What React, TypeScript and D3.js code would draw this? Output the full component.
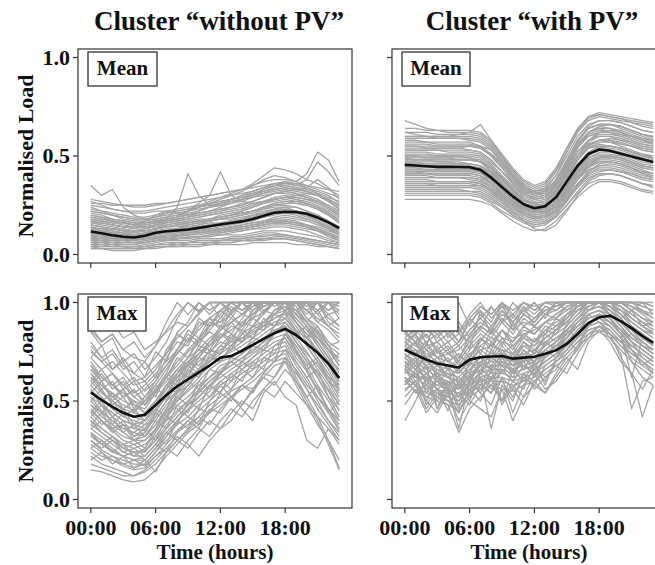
import React from "react";
import * as d3 from "d3";

const hours = [0, 1, 2, 3, 4, 5, 6, 7, 8, 9, 10, 11, 12, 13, 14, 15, 16, 17, 18, 19, 20, 21, 22, 23];
const xTickHours = [0, 6, 12, 18];
const xTickLabels = ["00:00", "06:00", "12:00", "18:00"];
const yTickValues = [0, 0.5, 1.0];
const yTickLabels = ["0.0", "0.5", "1.0"];
const clusterTitles = ["Cluster \u201Cwithout PV\u201D", "Cluster \u201Cwith PV\u201D"];
const rowLabels = ["Mean", "Max"];

// Black centroid profiles
const noPvMeanProfile = [0.117, 0.108, 0.098, 0.09, 0.086, 0.095, 0.11, 0.118, 0.122, 0.127, 0.135, 0.143, 0.152, 0.16, 0.168, 0.18, 0.197, 0.212, 0.217, 0.216, 0.207, 0.188, 0.163, 0.134];
const pvMeanProfile = [0.455, 0.452, 0.448, 0.445, 0.445, 0.444, 0.443, 0.43, 0.39, 0.342, 0.295, 0.255, 0.235, 0.245, 0.29, 0.37, 0.45, 0.51, 0.533, 0.527, 0.512, 0.498, 0.484, 0.469];
const noPvMaxProfile = [0.543, 0.505, 0.47, 0.44, 0.42, 0.43, 0.48, 0.53, 0.575, 0.61, 0.645, 0.68, 0.72, 0.728, 0.755, 0.785, 0.815, 0.845, 0.866, 0.835, 0.79, 0.745, 0.69, 0.616];
const pvMaxProfile = [0.761, 0.735, 0.71, 0.69, 0.68, 0.67, 0.71, 0.722, 0.726, 0.728, 0.715, 0.72, 0.725, 0.74, 0.757, 0.79, 0.84, 0.895, 0.925, 0.933, 0.905, 0.87, 0.83, 0.795];

// Grey individual customer profiles (hundredths of normalised load)
const noPvMeanCustomers = [
  [4,3,3,3,3,3,4,4,4,4,4,5,5,5,5,6,6,6,6,5,5,4,4,3],
  [5,4,4,4,4,4,5,5,5,6,6,6,7,7,7,8,8,9,9,8,7,6,5,4],
  [6,5,5,4,4,5,6,7,7,7,8,8,8,9,9,10,11,11,10,9,8,7,6,5],
  [7,6,6,5,5,6,7,8,8,9,9,10,10,11,12,13,13,14,14,13,12,10,8,6],
  [3,3,2,2,2,3,3,4,4,5,5,5,6,6,7,7,8,8,8,7,6,5,4,3],
  [8,7,6,6,6,6,7,7,8,8,9,9,10,10,10,11,12,12,12,11,10,9,7,6],
  [10,9,8,8,7,8,9,10,11,11,12,13,13,14,15,16,17,19,20,19,18,16,14,11],
  [12,11,10,9,9,10,12,13,13,13,14,15,16,17,18,19,21,23,24,24,22,20,17,14],
  [14,12,11,10,10,11,12,12,13,14,15,16,16,17,18,20,22,23,23,22,21,19,16,13],
  [11,10,9,9,8,9,10,11,12,12,13,13,14,15,16,17,19,20,21,21,20,18,15,12],
  [15,14,13,12,11,12,13,14,14,15,16,17,18,19,20,21,23,25,26,26,25,23,20,16],
  [9,8,8,7,7,8,9,9,10,11,12,12,13,13,14,15,16,18,19,18,17,15,13,10],
  [13,13,12,11,10,11,11,12,13,14,15,17,18,18,19,20,21,22,22,21,20,17,14,11],
  [16,15,14,13,12,12,13,15,16,16,17,18,19,20,22,24,26,27,28,27,26,24,21,18],
  [18,17,16,15,14,14,15,16,17,18,19,20,21,22,23,25,27,29,30,29,28,26,23,20],
  [21,20,18,17,16,16,17,18,19,20,21,22,23,24,26,27,29,31,32,31,30,28,25,22],
  [24,22,20,19,18,18,19,20,21,22,23,24,25,26,27,29,31,33,34,33,32,30,27,24],
  [27,25,23,22,21,21,22,22,23,24,25,26,27,28,30,31,33,35,36,35,34,32,30,26],
  [20,19,17,16,15,17,20,22,21,20,22,24,25,27,28,30,31,32,33,32,31,30,28,25],
  [26,26,25,25,25,25,26,26,27,28,29,30,31,32,33,34,35,36,36,36,35,34,33,32],
  [35,30,33,24,20,18,18,19,20,22,24,26,27,28,29,30,32,33,34,33,32,30,28,25],
  [17,16,15,14,14,15,16,18,24,41,30,25,26,27,28,29,30,31,32,33,34,38,34,28],
  [15,14,13,13,12,13,15,17,19,22,26,30,42,30,27,26,27,28,29,30,31,30,28,25],
  [22,21,20,18,17,17,18,19,20,22,24,26,28,30,32,35,38,40,39,37,41,52,48,37],
  [19,18,17,16,15,15,16,17,18,19,21,22,24,26,28,30,33,35,37,35,38,47,42,35],
  [23,22,21,20,19,19,20,21,22,23,25,27,29,31,33,36,40,44,43,41,38,36,33,30],
  [12,12,11,10,10,10,11,11,12,12,12,13,13,14,14,15,16,17,17,16,15,14,12,10],
  [8,8,7,7,6,7,8,9,9,10,10,11,12,12,13,14,15,16,16,15,14,12,10,8],
  [17,16,15,14,13,14,14,15,16,17,18,18,19,20,21,22,24,26,27,27,26,24,21,17],
  [10,10,9,8,8,9,10,11,12,13,14,15,15,16,17,18,20,22,23,22,21,19,16,12],
  [5,5,4,4,4,4,5,6,6,6,7,7,7,8,8,9,10,10,10,9,8,7,6,5],
  [9,9,8,8,8,8,9,9,10,10,11,11,11,12,12,13,14,15,15,14,13,12,10,9],
  [11,10,10,9,9,10,11,12,13,14,14,15,16,17,18,19,21,22,22,21,19,17,14,11],
  [13,12,11,11,10,11,13,14,15,15,16,17,18,19,20,22,24,25,25,24,22,20,17,14],
  [14,13,13,12,12,13,14,16,17,18,19,20,21,22,23,25,27,28,29,28,26,24,21,17],
  [19,18,17,16,15,16,17,18,19,20,21,22,23,24,25,27,29,31,31,30,29,27,24,21],
  [22,21,20,19,18,18,19,21,22,23,24,25,26,28,29,31,32,34,35,34,32,30,27,23],
  [25,24,23,22,22,22,23,24,25,26,27,28,29,30,31,32,34,35,35,34,33,31,29,27],
  [6,6,5,5,5,6,7,8,9,10,11,12,13,14,15,16,17,18,18,17,15,13,10,7],
  [7,7,6,6,6,6,7,8,8,9,9,10,11,12,13,14,15,16,17,16,14,12,9,7],
  [10,9,9,8,8,8,9,10,10,11,11,12,12,13,13,14,15,16,16,15,14,13,11,9],
  [16,16,15,14,14,14,15,17,18,19,20,21,22,24,25,27,29,31,32,31,29,27,24,20],
  [12,11,11,10,10,10,11,12,13,15,16,18,19,20,21,22,23,24,24,22,20,17,14,11],
  [20,19,18,17,16,16,17,18,19,21,22,24,26,28,30,32,34,36,37,36,34,31,27,23],
  [4,4,4,4,3,4,5,5,6,6,7,7,7,8,8,9,9,10,10,9,8,7,6,5],
  [18,17,16,16,15,15,16,17,18,19,20,21,22,23,24,26,27,28,29,28,27,25,22,19],
  [15,14,13,12,12,12,13,14,15,16,17,18,20,21,22,24,26,28,29,29,28,27,25,22],
  [11,11,10,10,9,9,10,11,11,12,13,14,15,16,17,18,19,21,21,20,18,16,13,10],
  [8,7,7,6,6,7,8,9,10,10,11,12,12,13,14,15,16,17,17,16,15,13,11,8],
  [28,27,26,25,24,24,25,26,27,28,29,30,31,32,33,35,37,38,38,37,35,33,31,29],
  [13,12,12,11,11,12,13,14,15,16,17,18,19,20,21,22,24,26,27,26,25,23,20,16],
  [3,3,3,3,3,3,4,4,5,5,5,6,6,6,7,7,7,8,8,7,6,5,4,3],
];

const pvMeanCustomers = [
  [62,62,62,61,61,61,61,60,56,49,42,36,33,35,42,52,62,68,70,69,68,67,66,65],
  [58,58,57,57,57,57,57,55,50,44,38,33,31,32,38,48,58,64,66,66,65,63,61,60],
  [55,55,54,54,54,54,53,52,48,42,36,31,29,30,35,45,55,61,63,63,62,60,58,57],
  [52,52,52,51,51,51,51,50,46,40,35,30,28,29,34,43,52,58,60,60,59,57,55,54],
  [50,50,49,49,49,48,48,47,43,38,33,29,27,28,32,41,50,56,58,58,56,55,53,52],
  [48,48,48,47,47,47,46,45,41,36,31,27,25,26,31,39,48,54,56,55,54,52,51,50],
  [46,46,45,45,45,45,44,43,39,34,30,26,24,25,29,37,45,51,53,53,52,50,48,47],
  [44,44,43,43,43,43,43,42,38,33,29,25,23,24,28,36,44,49,51,51,50,48,46,45],
  [42,42,41,41,41,41,41,40,36,31,27,23,21,22,26,34,42,47,49,49,48,46,44,43],
  [40,40,40,39,39,39,39,38,34,30,26,22,20,21,25,32,40,45,47,47,46,44,42,41],
  [38,38,38,37,37,37,37,36,33,28,24,21,19,20,24,31,38,43,45,45,44,42,40,39],
  [36,36,36,35,35,35,35,34,31,27,23,20,18,19,22,29,36,41,43,43,42,40,38,37],
  [33,33,33,33,33,33,32,32,29,25,21,18,16,17,21,27,34,39,41,41,40,38,36,35],
  [30,30,30,30,30,30,30,29,26,22,19,16,14,15,19,25,31,36,38,38,37,35,33,32],
  [28,28,28,28,28,28,28,27,25,21,17,14,12,13,17,23,29,34,37,37,36,34,32,31],
  [68,66,64,63,62,62,62,61,57,50,43,37,34,36,43,54,64,70,72,71,70,69,68,67],
  [60,60,60,60,60,61,62,66,58,50,40,34,32,33,40,52,63,70,71,70,69,67,65,64],
  [54,54,54,54,54,54,55,55,53,47,39,32,28,29,33,42,54,62,65,64,62,60,58,56],
  [47,47,47,47,47,46,45,42,36,30,26,23,22,24,30,40,50,56,58,57,55,53,51,49],
  [43,43,43,43,43,43,43,43,42,38,32,26,22,22,24,30,38,45,49,50,49,47,45,44],
  [50,50,50,50,50,50,49,47,42,36,31,27,26,27,33,44,56,62,64,62,60,58,56,55],
  [39,39,39,39,39,39,39,38,35,31,27,24,22,23,27,34,43,50,54,55,54,52,50,49],
  [45,45,45,44,44,44,44,43,40,35,30,25,22,21,24,31,39,45,48,48,47,45,43,41],
  [35,35,35,35,35,35,35,35,33,29,25,21,19,19,22,28,35,40,42,43,42,41,39,38],
  [57,57,57,56,56,56,56,55,51,45,39,34,31,31,36,45,55,60,62,62,61,60,59,58],
  [41,41,41,41,41,41,41,40,37,32,28,24,22,24,30,39,48,54,57,57,56,55,54,53],
  [53,53,53,53,52,52,52,51,47,42,37,33,31,32,36,43,50,54,55,55,54,52,50,48],
  [32,32,32,32,32,32,32,31,28,24,20,17,15,16,20,27,35,42,46,47,46,44,41,39],
  [49,48,48,48,48,48,48,47,44,39,34,30,28,29,35,46,57,64,66,66,64,62,60,58],
  [37,37,37,37,37,37,37,36,32,27,22,17,13,12,15,22,30,37,40,41,40,38,36,34],
  [46,46,46,46,46,46,46,45,42,37,32,28,26,27,32,41,50,58,62,63,62,60,58,57],
  [62,61,60,60,60,60,60,59,55,48,41,35,32,34,40,50,60,66,68,68,67,65,63,62],
  [64,64,63,63,63,63,63,62,58,51,44,38,35,37,44,54,63,69,71,70,69,68,67,66],
  [56,56,56,55,55,55,55,54,50,44,37,32,30,31,36,46,56,62,64,64,63,61,59,58],
  [51,51,51,50,50,50,50,49,45,39,33,28,26,27,31,40,50,57,60,60,58,56,54,53],
  [47,47,46,46,46,46,46,45,41,35,30,26,24,25,30,39,48,55,58,58,57,55,53,52],
  [44,44,44,44,44,44,43,42,38,33,28,24,22,23,27,35,43,49,52,52,51,49,47,46],
  [41,41,41,40,40,40,40,39,36,31,27,23,21,22,26,33,41,47,50,50,49,47,45,44],
  [37,37,37,37,37,37,37,36,33,29,25,21,19,20,24,30,38,44,47,47,46,44,42,41],
  [34,34,34,34,34,34,34,33,30,26,22,19,17,18,22,28,35,41,44,44,43,41,39,38],
  [31,31,31,31,31,31,31,30,27,24,20,17,15,16,19,25,32,38,41,41,40,38,36,35],
  [59,59,59,59,59,59,58,57,53,46,39,33,30,31,37,47,58,65,68,68,67,65,63,62],
  [53,53,53,53,53,53,53,52,48,42,36,31,29,30,35,44,54,60,62,62,61,59,57,56],
  [49,49,49,49,49,49,49,48,44,38,33,28,26,27,32,42,52,58,61,61,60,58,56,55],
  [45,45,45,45,45,45,45,44,40,35,30,26,24,25,29,37,46,52,55,55,54,52,50,49],
  [42,42,42,42,42,42,42,41,38,33,28,24,22,23,27,34,42,48,50,50,49,47,45,44],
  [39,39,39,39,39,39,38,37,34,30,26,22,20,21,25,32,40,46,49,49,48,46,44,43],
  [55,55,55,55,55,55,55,54,51,46,40,35,32,33,37,46,56,62,65,66,65,63,61,59],
  [43,43,43,43,43,43,43,42,39,34,29,25,23,24,29,38,48,55,58,59,58,57,55,54],
  [48,48,48,48,48,48,48,47,44,39,33,28,25,25,28,35,44,51,54,54,53,51,49,47],
  [36,36,36,36,36,36,36,35,32,28,24,20,18,19,23,29,36,42,45,46,45,43,41,40],
  [60,60,60,59,59,59,59,58,54,47,40,34,31,32,38,48,58,64,66,66,65,63,61,60],
];

const noPvMaxCustomers = [
  [85,78,82,70,74,66,72,80,92,100,95,100,100,96,100,100,98,100,100,100,96,100,92,88],
  [80,72,66,70,60,62,75,70,85,90,100,94,100,100,96,100,100,100,100,94,100,90,86,80],
  [75,70,64,58,62,55,60,72,80,78,88,92,86,95,100,94,100,100,100,100,92,88,80,76],
  [70,62,58,52,55,50,58,66,74,82,78,88,90,94,88,96,100,100,100,96,90,85,78,70],
  [66,60,52,48,45,50,55,62,68,75,80,85,82,90,94,92,100,98,100,94,88,80,72,66],
  [62,55,50,45,42,40,48,58,64,70,74,78,84,82,88,92,95,100,100,92,86,78,70,62],
  [58,52,46,42,40,38,45,52,60,64,70,75,80,78,84,88,90,96,98,90,84,75,68,58],
  [55,48,42,38,36,35,42,50,55,62,66,70,76,80,82,85,88,92,95,88,80,72,64,55],
  [52,45,40,36,34,38,40,48,54,58,64,68,72,75,78,82,86,90,92,85,78,70,62,52],
  [48,42,38,34,30,32,38,45,50,55,60,66,70,72,76,80,84,88,90,82,75,66,58,48],
  [45,40,35,30,28,30,35,42,48,52,58,62,68,70,74,78,82,86,88,80,72,64,55,45],
  [42,36,32,28,26,28,32,40,45,50,55,60,65,68,72,75,80,84,86,78,70,62,52,42],
  [40,34,30,26,24,25,30,36,42,48,52,58,62,66,70,74,78,82,84,75,68,58,50,40],
  [36,32,28,24,22,22,28,34,40,45,50,55,60,64,68,72,76,80,82,72,65,55,46,38],
  [33,28,25,22,20,20,26,32,38,42,48,52,58,62,66,70,74,78,80,70,62,52,44,35],
  [30,25,22,20,18,18,24,30,35,40,45,50,55,60,64,68,72,76,78,68,60,50,40,32],
  [26,22,20,17,15,16,22,28,34,38,42,48,52,56,62,66,70,74,76,65,56,46,38,30],
  [22,18,16,14,12,14,18,24,30,35,40,45,50,55,58,62,68,72,74,62,52,42,30,16],
  [15,14,12,10,9,10,15,22,28,34,38,44,48,52,56,60,65,70,72,60,50,40,28,15],
  [18,16,14,12,12,15,20,26,32,28,22,30,36,40,48,55,62,68,70,58,48,38,30,20],
  [95,88,90,82,85,76,80,85,90,88,95,100,92,100,100,100,94,100,100,100,100,94,100,96],
  [88,80,84,76,72,70,78,90,100,94,100,96,100,94,100,100,100,100,100,100,98,100,96,100],
  [60,66,58,62,54,58,64,70,76,72,82,78,86,90,84,92,88,96,100,94,90,96,88,84],
  [50,56,48,52,44,50,56,62,58,68,64,72,70,78,74,82,80,88,92,86,82,88,78,74],
  [44,38,42,34,38,32,40,36,48,44,56,52,60,56,66,62,72,70,84,76,68,72,62,58],
  [38,44,36,40,32,36,30,42,38,50,46,58,54,64,60,70,66,78,82,74,66,70,60,56],
  [64,56,60,52,56,48,56,62,72,68,78,76,84,80,90,88,96,94,100,90,82,76,68,60],
  [72,66,70,64,58,60,52,64,76,86,82,92,90,98,94,100,100,100,96,100,94,100,90,86],
  [46,40,36,38,32,34,44,54,46,42,38,50,58,52,46,40,54,60,52,48,30,26,36,28],
  [34,30,26,22,24,20,26,34,30,36,42,38,46,52,48,56,62,58,66,60,52,58,44,50],
  [56,50,54,46,50,44,50,58,66,62,72,70,78,76,84,82,90,88,96,90,84,80,72,66],
  [28,24,20,18,16,18,24,32,40,46,52,58,64,70,66,72,78,84,88,80,74,68,60,54],
  [68,60,64,58,52,48,56,64,60,70,68,76,74,84,80,88,86,94,98,92,86,82,76,70],
  [24,20,22,18,20,17,22,26,22,30,36,32,40,46,42,50,56,52,60,54,48,42,36,30],
  [78,72,76,68,64,60,66,74,84,80,90,88,96,100,100,96,100,100,100,100,96,92,88,82],
  [40,36,32,28,30,26,36,46,56,64,72,80,88,84,92,100,96,100,100,94,88,82,76,72],
  [62,58,54,50,48,46,54,62,70,76,82,88,94,100,96,100,100,100,100,98,90,84,76,68],
  [52,48,44,40,38,40,46,54,62,68,74,80,86,90,94,98,100,100,100,96,90,82,74,64],
  [68,62,58,54,50,48,54,60,66,72,76,82,86,90,94,98,100,100,100,96,90,84,76,68],
  [60,54,50,46,44,42,48,56,62,68,72,78,82,86,90,94,98,100,100,94,88,80,72,62],
  [50,44,40,36,34,32,38,46,52,58,64,70,74,78,82,86,90,94,96,90,82,74,66,56],
  [46,40,36,32,30,30,36,44,50,56,62,68,72,76,80,84,88,92,94,86,78,70,60,50],
  [38,34,30,26,24,24,30,38,44,50,56,62,66,70,74,78,82,86,88,80,72,62,52,42],
  [32,28,24,22,20,22,28,36,42,48,54,60,64,68,72,76,80,84,86,76,66,56,46,36],
  [86,80,84,76,80,72,78,86,94,100,96,100,100,100,96,100,100,100,100,100,100,96,100,92],
  [72,78,66,72,64,70,62,76,84,80,92,88,96,92,100,100,100,100,100,100,100,100,94,96],
  [54,60,50,56,46,52,58,50,64,70,66,76,74,82,80,88,86,94,92,100,96,90,94,88],
  [42,48,38,44,36,40,46,42,54,60,56,66,64,72,70,78,76,84,90,84,88,78,70,74],
  [64,58,52,56,48,44,50,58,54,66,62,74,70,78,86,82,92,88,96,100,92,86,78,80],
  [30,26,30,24,26,22,28,24,34,40,36,46,44,52,58,54,64,70,76,70,62,66,52,46],
  [20,24,18,22,16,20,14,24,30,26,34,40,36,44,50,46,56,62,70,64,56,48,40,34],
  [58,64,56,60,52,56,62,68,76,84,80,90,88,96,100,100,100,100,100,100,100,100,100,100],
  [48,44,50,42,46,40,48,56,64,72,80,86,92,100,100,100,100,100,100,100,100,100,100,98],
  [36,40,34,38,30,34,42,50,58,66,74,80,86,92,88,96,100,100,100,100,100,100,96,100],
  [26,30,24,28,22,26,34,42,50,58,66,72,78,84,80,88,94,100,100,96,100,94,88,92],
  [76,70,74,66,70,62,68,74,82,88,94,100,100,100,100,100,100,100,100,100,100,100,100,100],
  [44,50,42,46,38,44,50,58,62,70,76,74,82,88,86,94,98,100,100,100,100,96,100,94],
  [56,48,44,40,38,36,44,40,52,48,60,56,64,60,70,66,76,74,84,78,70,64,56,48],
  [34,28,32,26,28,24,32,28,40,36,46,44,54,50,58,56,64,62,72,66,58,52,46,40],
  [66,60,64,56,60,52,60,68,74,80,86,92,96,100,100,100,100,100,100,100,100,100,100,100],
];

const pvMaxCustomers = [
  [95,90,96,88,92,85,94,100,92,98,90,96,100,94,100,100,100,100,100,100,100,100,98,96],
  [90,85,88,80,84,78,86,92,98,90,94,88,92,96,98,100,100,100,100,100,100,98,95,92],
  [88,82,78,80,74,76,82,88,84,92,86,90,88,94,96,100,100,100,100,100,98,94,90,88],
  [85,80,76,72,74,70,78,84,80,86,82,84,86,90,92,96,100,100,100,100,96,92,88,85],
  [82,78,74,70,68,66,74,78,82,80,78,82,80,84,88,92,98,100,100,100,94,90,86,82],
  [80,76,72,68,66,64,70,76,78,76,74,78,78,82,86,90,96,100,100,98,94,88,84,80],
  [78,74,70,66,64,62,68,72,74,74,72,74,76,80,84,88,94,98,100,98,92,86,82,78],
  [76,72,68,64,62,60,66,70,72,72,70,72,74,78,82,86,92,96,98,96,90,84,80,76],
  [74,70,66,62,60,58,64,68,70,70,68,70,72,76,80,84,90,94,96,94,88,82,78,74],
  [72,68,64,60,58,56,62,66,68,68,66,68,70,74,78,82,88,92,94,92,86,80,76,72],
  [70,66,62,58,56,54,60,64,66,66,64,66,68,72,76,80,86,90,92,90,84,78,74,70],
  [68,64,60,56,54,52,58,62,64,64,62,64,66,70,74,78,84,88,90,88,82,76,72,68],
  [65,62,58,54,52,50,56,60,62,62,60,62,64,68,72,76,82,86,88,86,80,74,70,66],
  [62,58,54,52,50,48,54,58,60,60,58,60,62,66,70,74,80,84,86,84,78,72,68,64],
  [60,55,52,50,48,45,52,56,58,56,55,58,60,64,68,72,78,82,85,82,76,70,66,62],
  [40,50,62,46,56,36,60,54,48,62,44,58,66,60,70,76,84,90,92,88,82,70,62,58],
  [58,64,48,56,45,60,52,62,36,58,50,64,56,62,68,64,74,82,88,84,72,64,56,66],
  [70,62,68,46,60,52,64,56,62,50,66,60,70,58,72,80,76,88,94,90,86,76,68,72],
  [84,92,78,94,82,88,76,96,84,100,86,98,88,94,100,96,100,100,100,100,100,96,100,94],
  [92,100,86,96,90,100,88,98,94,100,92,100,96,100,100,100,100,100,100,100,100,100,100,98],
  [75,80,70,76,66,72,80,74,86,78,90,82,88,84,92,88,100,96,100,96,92,96,88,90],
  [66,72,58,66,62,56,70,64,76,70,64,74,70,80,76,86,82,94,90,86,80,84,78,74],
  [55,60,50,44,54,40,50,46,42,56,40,52,58,54,62,70,76,84,88,82,74,46,60,62],
  [62,54,58,52,48,34,46,52,58,50,56,48,60,54,64,72,66,80,86,80,70,64,42,58],
  [86,80,84,74,78,70,84,90,86,96,88,94,90,98,96,100,100,100,100,100,100,96,92,88],
  [78,84,72,78,70,74,68,82,76,86,78,84,80,88,86,94,96,100,100,98,96,90,86,84],
  [72,76,66,70,62,66,74,68,80,74,70,78,74,82,86,90,96,98,100,94,90,86,80,76],
  [64,70,60,64,56,58,66,72,66,74,68,72,70,76,80,86,90,96,98,94,88,80,76,72],
  [80,74,78,72,70,64,72,80,88,82,80,86,84,90,94,98,100,100,100,100,98,92,88,84],
  [68,60,64,56,52,58,50,64,72,68,74,66,76,72,80,86,92,98,100,96,90,84,78,74],
  [74,68,72,62,66,58,62,70,66,74,78,70,82,78,86,92,98,100,100,98,94,88,84,80],
  [52,58,46,54,50,44,56,60,54,66,60,68,64,72,78,84,88,92,94,90,86,80,76,72],
  [72,66,62,58,60,56,62,58,68,64,72,68,66,70,74,82,88,94,96,92,84,62,82,78],
  [60,64,56,50,58,48,54,62,56,60,52,62,58,68,72,78,86,92,94,90,84,78,74,70],
  [88,84,90,84,86,80,90,96,90,100,94,100,96,100,98,100,100,100,100,100,100,100,96,92],
  [82,86,80,84,76,80,86,92,86,94,90,96,92,98,96,100,100,100,100,100,100,98,94,90],
  [90,94,86,92,84,90,82,94,88,96,90,98,94,100,100,100,100,100,100,100,100,100,98,96],
  [86,90,82,86,80,84,80,88,84,92,86,94,90,96,98,100,100,100,100,100,100,98,96,94],
  [80,84,76,80,74,78,72,82,78,86,80,88,84,90,94,98,100,100,100,100,100,96,92,90],
  [76,80,72,76,70,74,68,78,74,82,76,84,80,86,90,94,100,100,100,100,98,94,90,86],
  [72,76,68,72,66,70,64,74,70,78,72,80,76,82,86,90,96,100,100,98,94,90,86,82],
  [68,72,64,68,62,66,60,70,66,74,68,76,72,78,82,86,92,98,100,96,90,86,82,78],
  [64,68,60,64,58,62,56,66,62,70,64,72,68,74,78,82,88,94,96,92,86,82,78,74],
  [60,64,56,60,54,58,52,62,58,66,60,68,64,70,74,78,84,90,92,88,82,78,74,70],
  [56,60,52,56,50,54,48,58,54,62,56,64,60,66,70,76,82,88,90,84,78,74,70,66],
  [70,66,72,64,68,60,66,72,68,76,70,80,74,84,80,88,94,100,100,98,94,88,84,80],
  [66,62,68,60,64,56,62,68,64,72,66,76,70,80,76,84,90,96,98,94,90,84,80,76],
  [62,58,64,56,60,52,58,64,60,68,62,72,66,76,72,80,86,92,94,90,86,80,76,72],
  [82,78,84,76,80,72,80,86,82,90,84,92,88,94,92,98,100,100,100,100,100,96,92,90],
  [78,74,80,72,76,68,76,82,78,86,80,88,84,90,88,94,98,100,100,100,98,94,90,86],
  [92,88,94,86,90,84,92,98,94,100,96,100,98,100,100,100,100,100,100,100,100,100,100,98],
  [48,56,44,52,58,46,62,54,66,50,60,56,68,62,66,74,80,86,88,84,80,76,70,64],
  [66,58,50,62,54,44,56,50,62,48,58,52,64,56,60,68,78,88,94,92,86,80,72,68],
  [84,80,86,82,88,80,92,86,98,90,100,94,100,92,100,100,100,100,100,100,100,100,100,100],
  [58,66,54,62,56,50,60,68,60,72,64,70,62,74,76,82,90,96,98,94,88,82,78,76],
  [74,70,76,68,72,64,70,76,72,80,74,82,78,86,84,92,98,100,100,100,96,92,88,84],
];

const FONT = "'Liberation Serif', 'Times New Roman', serif";
const BOX_W = 274;
const BOX_H = 214;

type PanelDef = {
  left: number;
  top: number;
  label: string;
  labelW: number;
  grey: number[][];
  profile: number[];
  showYLabels: boolean;
  showXLabels: boolean;
};

const panels: PanelDef[] = [
  { left: 78, top: 49, label: rowLabels[0], labelW: 69, grey: noPvMeanCustomers, profile: noPvMeanProfile, showYLabels: true, showXLabels: false },
  { left: 392, top: 49, label: rowLabels[0], labelW: 68, grey: pvMeanCustomers, profile: pvMeanProfile, showYLabels: false, showXLabels: false },
  { left: 78, top: 294, label: rowLabels[1], labelW: 58, grey: noPvMaxCustomers, profile: noPvMaxProfile, showYLabels: true, showXLabels: true },
  { left: 392, top: 294, label: rowLabels[1], labelW: 56, grey: pvMaxCustomers, profile: pvMaxProfile, showYLabels: false, showXLabels: true },
];

function Panel({ p, idx }: { p: PanelDef; idx: number }) {
  const x = d3.scaleLinear().domain([0, 23]).range([p.left + 12.8, p.left + 12.8 + 23 * 10.8]);
  const y = d3.scaleLinear().domain([0, 1]).range([p.top + 205.5, p.top + 8.5]);
  const line = d3
    .line<number>()
    .x((_, i) => x(hours[i]))
    .y((v) => y(v));
  const clipId = `clip${idx}`;
  return (
    <g>
      <defs>
        <clipPath id={clipId}>
          <rect x={p.left} y={p.top} width={BOX_W} height={BOX_H} />
        </clipPath>
      </defs>
      <g clipPath={`url(#${clipId})`}>
        {p.grey.map((g, i) => (
          <path key={i} d={line(g.map((v) => v / 100)) || ""} fill="none" stroke="#a4a4a4" strokeWidth={1.3} strokeLinejoin="round" />
        ))}
        <path d={line(p.profile) || ""} fill="none" stroke="#111" strokeWidth={2.6} strokeLinejoin="round" />
      </g>
      <rect x={p.left} y={p.top} width={BOX_W} height={BOX_H} fill="none" stroke="#333" strokeWidth={1.2} />
      <rect x={p.left + 10} y={p.top + 3} width={p.labelW} height={34} fill="#fff" stroke="#333" strokeWidth={1.3} />
      <text x={p.left + 10 + p.labelW / 2} y={p.top + 26} textAnchor="middle" fontFamily={FONT} fontWeight="bold" fontSize={21} fill="#111">
        {p.label}
      </text>
      {yTickValues.map((v, i) => (
        <g key={"y" + i}>
          <line x1={p.left - 5} x2={p.left} y1={y(v)} y2={y(v)} stroke="#333" strokeWidth={1.2} />
          {p.showYLabels && (
            <text x={p.left - 8} y={y(v) + 7} textAnchor="end" fontFamily={FONT} fontWeight="bold" fontSize={22} fill="#111">
              {yTickLabels[i]}
            </text>
          )}
        </g>
      ))}
      {xTickHours.map((h, i) => (
        <g key={"x" + i}>
          <line x1={x(h)} x2={x(h)} y1={p.top + BOX_H} y2={p.top + BOX_H + 5} stroke="#333" strokeWidth={1.2} />
          {p.showXLabels && (
            <text x={x(h)} y={p.top + BOX_H + 27} textAnchor="middle" fontFamily={FONT} fontWeight="bold" fontSize={22} fill="#111">
              {xTickLabels[i]}
            </text>
          )}
        </g>
      ))}
      {p.showXLabels && (
        <text x={p.left + 137} y={p.top + BOX_H + 51} textAnchor="middle" fontFamily={FONT} fontWeight="bold" fontSize={21} fill="#111">
          Time (hours)
        </text>
      )}
      {p.showYLabels && (
        <text
          transform={`translate(${33}, ${p.top + BOX_H / 2}) rotate(-90)`}
          textAnchor="middle"
          fontFamily={FONT}
          fontWeight="bold"
          fontSize={22}
          fill="#111"
        >
          Normalised Load
        </text>
      )}
    </g>
  );
}

export default function App() {
  return (
    <svg
      width={655}
      height={565}
      viewBox="0 0 655 565"
      style={{ position: "fixed", left: 0, top: 0, background: "#fff" }}
    >
      <rect x={0} y={0} width={655} height={565} fill="#fff" />
      <text x={219} y={30} textAnchor="middle" fontFamily={FONT} fontWeight="bold" fontSize={27} fill="#111">
        {clusterTitles[0]}
      </text>
      <text x={532} y={30} textAnchor="middle" fontFamily={FONT} fontWeight="bold" fontSize={27} fill="#111">
        {clusterTitles[1]}
      </text>
      {panels.map((p, i) => (
        <Panel key={i} p={p} idx={i} />
      ))}
    </svg>
  );
}
